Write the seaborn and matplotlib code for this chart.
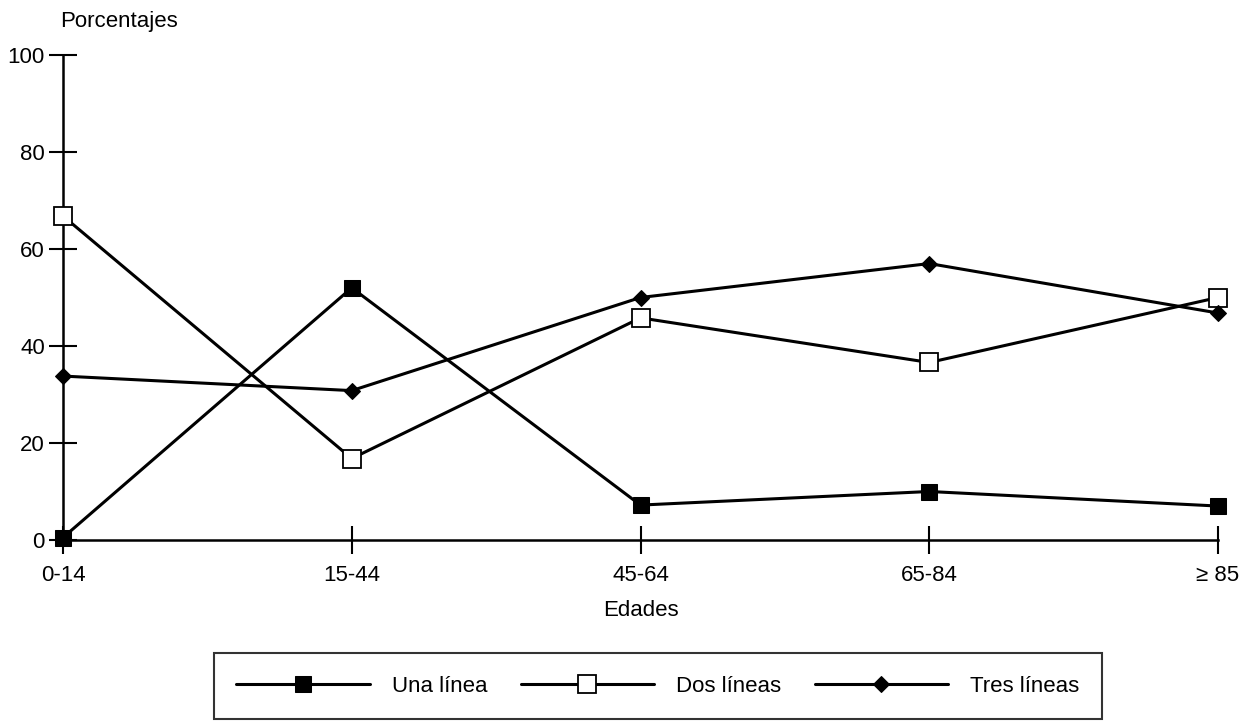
import numpy as np
import pandas as pd
import matplotlib
matplotlib.use("Agg")
import matplotlib.pyplot as plt
import seaborn as sns

edades = ["0-14", "15-44", "45-64", "65-84", "≥ 85"]
una_linea = [0.5, 52.0, 7.2, 10.0, 7.0]
dos_lineas = [66.8, 16.8, 45.8, 36.6, 50.0]
tres_lineas = [33.8, 30.8, 50.0, 57.0, 46.8]

sns.set_style("white")
plt.rcParams['font.family'] = ['Liberation Sans Narrow', 'Liberation Sans', 'DejaVu Sans']
plt.rcParams['text.color'] = 'black'
plt.rcParams['axes.labelcolor'] = 'black'

df = pd.DataFrame({
    "pos": np.tile(np.arange(len(edades)), 3),
    "valor": una_linea + dos_lineas + tres_lineas,
    "serie": ["Una línea"] * 5 + ["Dos líneas"] * 5 + ["Tres líneas"] * 5,
})

fig = plt.figure(figsize=(12.58, 7.24), dpi=100)
ax = fig.add_axes([63 / 1258, 1 - 540 / 724, (1218 - 63) / 1258, (540 - 55) / 724])

estilos = {
    "Una línea": dict(marker="s", markersize=12, markerfacecolor="black", markeredgecolor="black"),
    "Dos líneas": dict(marker="s", markersize=13, markerfacecolor="white", markeredgecolor="black", markeredgewidth=1.3),
    "Tres líneas": dict(marker="D", markersize=8, markerfacecolor="black", markeredgecolor="black"),
}
for nombre, kw in estilos.items():
    sub = df[df["serie"] == nombre]
    sns.lineplot(data=sub, x="pos", y="valor", ax=ax, color="black", lw=2.2,
                 label=nombre, clip_on=False, zorder=3, legend=False, **kw)

ax.set_xlim(0, len(edades) - 1)
ax.set_ylim(0, 100)
ax.set_xticks(range(len(edades)))
ax.set_xticklabels(edades)
ax.set_yticks([0, 20, 40, 60, 80, 100])
ax.tick_params(axis="both", direction="inout", length=20, width=1.5, labelsize=16,
               colors="black", bottom=True, left=True)
ax.tick_params(axis="y", pad=3)
ax.tick_params(axis="x", pad=8)
for s in ["top", "right"]:
    ax.spines[s].set_visible(False)
for s in ["left", "bottom"]:
    ax.spines[s].set_color("black")
    ax.spines[s].set_linewidth(1.8)

ax.set_xlabel("Edades", fontsize=16, labelpad=10)
ax.set_ylabel("")
fig.text(60 / 1258, 1 - 22 / 724, "Porcentajes", fontsize=16, ha="left", va="center")

handles, labels = ax.get_legend_handles_labels()
leg = fig.legend(handles, labels, loc="center", bbox_to_anchor=(658 / 1258, 1 - 686 / 724),
                 ncol=3, frameon=True, fancybox=False, edgecolor="black", fontsize=16,
                 handlelength=6.0, columnspacing=1.5, borderpad=1.0, handletextpad=1.0)
leg.get_frame().set_linewidth(1.5)

plt.savefig("out.png", dpi=100)
